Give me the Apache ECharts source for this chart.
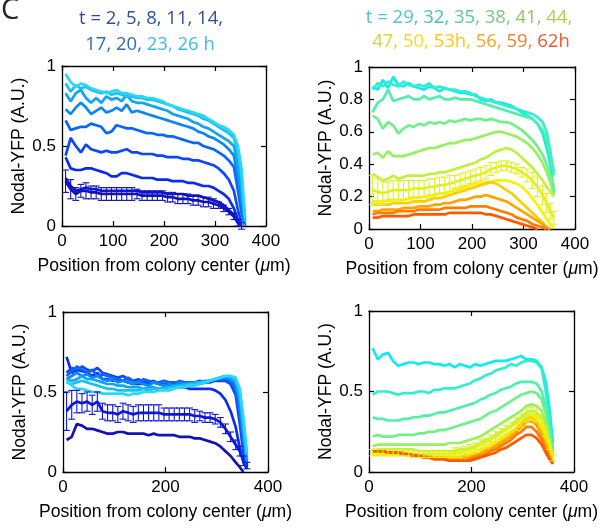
<!DOCTYPE html>
<html><head><meta charset="utf-8">
<script src="https://cdn.jsdelivr.net/npm/echarts@6/dist/echarts.min.js"></script>
<style>html,body{margin:0;padding:0;background:#fff}#c{width:609px;height:532px}</style>
</head><body><div id="c"></div>
<script>
// ---------- data ----------
const positions = [7,17,27,37,47,57,67,77,87,97,107,117,127,137,147,157,167,177,187,197,207,217,227,237,247,257,267,277,287,297,307,317,327,337,345,352,359];
const timesEarly = [2,5,8,11,14,17,20,23,26];
const timesLate = [29,32,35,38,41,44,47,50,53,56,59,62];
const colorsEarly = ['#1212b8','#0c16dc','#0a2cf0','#0a48fa','#0a66fa','#0c86f8','#10a4f6','#18c0f4','#28d8f4'];
const colorsLate = ['#10eaf2','#30eed0','#50f0aa','#70f088','#98f060','#c0f040','#e0f020','#fff000','#ffcc00','#ffa400','#ff7c00','#ff5800'];

// top-left panel, t = 2 ... 26 h
const topLeft = [
 [0.28,0.23,0.20,0.22,0.22,0.21,0.21,0.20,0.20,0.20,0.20,0.20,0.20,0.20,0.20,0.19,0.19,0.19,0.19,0.19,0.18,0.18,0.17,0.17,0.17,0.16,0.16,0.15,0.15,0.14,0.13,0.11,0.09,0.06,0.02,0.0,null],
 [0.30,0.25,0.22,0.23,0.24,0.23,0.23,0.22,0.22,0.22,0.22,0.22,0.22,0.22,0.22,0.21,0.21,0.21,0.21,0.21,0.20,0.20,0.20,0.20,0.19,0.19,0.19,0.18,0.17,0.16,0.15,0.13,0.10,0.07,0.02,0.0,null],
 [0.43,0.36,0.35,0.35,0.36,0.36,0.35,0.34,0.33,0.31,0.31,0.33,0.33,0.32,0.31,0.30,0.30,0.30,0.29,0.29,0.29,0.28,0.28,0.28,0.27,0.27,0.26,0.25,0.25,0.24,0.22,0.20,0.17,0.11,0.04,0.0,null],
 [0.44,0.55,0.50,0.46,0.51,0.48,0.47,0.46,0.47,0.46,0.46,0.47,0.48,0.46,0.46,0.45,0.45,0.45,0.44,0.44,0.43,0.43,0.43,0.42,0.42,0.41,0.41,0.40,0.39,0.38,0.36,0.33,0.29,0.22,0.10,0.02,null],
 [0.66,0.60,0.61,0.62,0.62,0.64,0.63,0.62,0.58,0.59,0.63,0.62,0.61,0.61,0.60,0.59,0.58,0.58,0.57,0.57,0.56,0.56,0.55,0.54,0.53,0.52,0.52,0.50,0.49,0.48,0.46,0.44,0.41,0.37,0.22,0.08,0.0],
 [0.73,0.70,0.74,0.77,0.74,0.70,0.72,0.74,0.71,0.72,0.74,0.72,0.76,0.71,0.72,0.71,0.70,0.69,0.68,0.67,0.66,0.65,0.64,0.63,0.62,0.61,0.59,0.58,0.56,0.55,0.53,0.51,0.48,0.44,0.30,0.15,0.0],
 [0.83,0.78,0.83,0.85,0.80,0.77,0.80,0.77,0.81,0.79,0.80,0.78,0.82,0.78,0.77,0.77,0.76,0.75,0.74,0.73,0.72,0.70,0.69,0.68,0.67,0.65,0.64,0.62,0.61,0.59,0.57,0.55,0.53,0.50,0.38,0.22,0.01],
 [0.89,0.84,0.88,0.86,0.87,0.85,0.84,0.83,0.84,0.82,0.83,0.82,0.81,0.81,0.80,0.80,0.79,0.79,0.78,0.77,0.76,0.75,0.73,0.72,0.71,0.70,0.69,0.67,0.66,0.64,0.62,0.60,0.58,0.55,0.45,0.30,0.03],
 [0.95,0.90,0.87,0.89,0.88,0.86,0.85,0.84,0.83,0.84,0.85,0.83,0.83,0.82,0.81,0.81,0.80,0.80,0.79,0.78,0.76,0.75,0.74,0.73,0.72,0.71,0.70,0.69,0.67,0.65,0.63,0.62,0.60,0.57,0.50,0.36,0.05]
];
const topLeftErr = [0.07,0.06,0.04,0.04,0.05,0.04,0.04,0.04,0.04,0.04,0.04,0.04,0.04,0.04,0.03,0.03,0.03,0.03,0.03,0.03,0.03,0.03,0.03,0.03,0.03,0.03,0.03,0.03,0.03,0.03,0.02,0.02,0.02,0.02,0.02,0.02,null];

// top-right panel, t = 29 ... 62 h
const topRight = [
 [0.88,0.86,0.92,0.87,0.94,0.89,0.88,0.90,0.88,0.87,0.86,0.88,0.87,0.85,0.87,0.86,0.85,0.84,0.84,0.83,0.83,0.80,0.79,0.80,0.78,0.78,0.77,0.76,0.74,0.72,0.70,0.68,0.65,0.59,0.50,0.40,0.22],
 [0.86,0.90,0.88,0.91,0.89,0.88,0.91,0.89,0.88,0.89,0.88,0.90,0.87,0.88,0.87,0.86,0.86,0.85,0.85,0.84,0.82,0.81,0.80,0.79,0.78,0.77,0.76,0.75,0.74,0.73,0.72,0.71,0.69,0.66,0.60,0.48,0.35],
 [0.72,0.78,0.80,0.86,0.79,0.80,0.81,0.82,0.80,0.80,0.82,0.80,0.81,0.82,0.80,0.80,0.81,0.80,0.80,0.80,0.79,0.78,0.77,0.76,0.75,0.74,0.73,0.72,0.71,0.70,0.69,0.68,0.65,0.61,0.55,0.45,0.33],
 [0.70,0.68,0.62,0.66,0.64,0.59,0.62,0.64,0.63,0.65,0.64,0.66,0.65,0.66,0.65,0.67,0.66,0.67,0.68,0.67,0.68,0.68,0.67,0.68,0.67,0.66,0.66,0.65,0.63,0.61,0.58,0.55,0.51,0.46,0.40,0.33,0.27],
 [0.46,0.47,0.44,0.48,0.45,0.45,0.45,0.46,0.47,0.48,0.49,0.50,0.50,0.51,0.52,0.53,0.53,0.54,0.55,0.55,0.56,0.57,0.58,0.59,0.60,0.60,0.59,0.58,0.57,0.55,0.53,0.50,0.46,0.41,0.35,0.29,0.21],
 [0.34,0.32,0.30,0.31,0.33,0.31,0.32,0.33,0.33,0.33,0.33,0.34,0.34,0.35,0.35,0.36,0.37,0.38,0.39,0.40,0.41,0.43,0.44,0.46,0.48,0.49,0.50,0.49,0.47,0.44,0.41,0.38,0.34,0.30,0.26,0.23,0.20],
 [0.24,0.23,0.22,0.23,0.24,0.24,0.24,0.24,0.25,0.25,0.25,0.26,0.26,0.27,0.27,0.28,0.29,0.30,0.31,0.32,0.33,0.34,0.35,0.37,0.38,0.39,0.39,0.38,0.37,0.35,0.33,0.30,0.26,0.21,0.16,0.11,0.07],
 [0.17,0.17,0.17,0.18,0.18,0.18,0.18,0.19,0.19,0.19,0.20,0.20,0.21,0.22,0.22,0.23,0.24,0.25,0.26,0.27,0.28,0.28,0.29,0.29,0.30,0.30,0.30,0.29,0.28,0.26,0.23,0.19,0.15,0.10,0.06,0.03,0.01],
 [0.15,0.15,0.15,0.15,0.16,0.16,0.16,0.16,0.17,0.17,0.17,0.18,0.19,0.19,0.20,0.21,0.22,0.23,0.24,0.25,0.26,0.27,0.28,0.29,0.28,0.26,0.24,0.22,0.19,0.16,0.13,0.10,0.07,0.04,0.01,0.0,null],
 [0.11,0.11,0.12,0.12,0.12,0.12,0.13,0.13,0.13,0.14,0.14,0.14,0.15,0.15,0.16,0.16,0.17,0.18,0.18,0.19,0.20,0.20,0.21,0.20,0.19,0.18,0.17,0.15,0.13,0.11,0.09,0.07,0.05,0.03,0.01,0.0,null],
 [0.09,0.10,0.10,0.10,0.10,0.11,0.11,0.11,0.11,0.12,0.12,0.12,0.12,0.12,0.13,0.13,0.13,0.13,0.13,0.14,0.14,0.14,0.14,0.13,0.12,0.11,0.10,0.09,0.07,0.06,0.05,0.03,0.02,0.01,0.0,null,null],
 [0.07,0.07,0.08,0.08,0.08,0.08,0.08,0.08,0.09,0.09,0.09,0.09,0.09,0.09,0.09,0.10,0.10,0.10,0.10,0.10,0.10,0.10,0.09,0.09,0.08,0.07,0.06,0.05,0.04,0.03,0.02,0.01,0.0,null,null,null,null]
];
const topRightErr = [0.09,0.08,0.07,0.06,0.06,0.06,0.06,0.06,0.05,0.05,0.05,0.05,0.05,0.05,0.05,0.05,0.04,0.04,0.04,0.04,0.04,0.04,0.04,0.04,0.03,0.03,0.03,0.03,0.03,0.03,0.04,0.05,0.06,0.06,0.06,0.05,0.04];

// bottom-left panel, t = 2 ... 26 h
const bottomLeft = [
 [0.20,0.22,0.30,0.29,0.27,0.27,0.26,0.25,0.24,0.24,0.25,0.25,0.24,0.24,0.24,0.24,0.23,0.24,0.23,0.23,0.23,0.23,0.22,0.22,0.22,0.21,0.21,0.20,0.19,0.18,0.16,0.13,0.10,0.06,0.03,0.0,null],
 [0.38,0.42,0.44,0.43,0.44,0.42,0.44,0.38,0.37,0.37,0.36,0.38,0.37,0.36,0.37,0.37,0.37,0.37,0.37,0.36,0.36,0.36,0.36,0.36,0.36,0.35,0.35,0.34,0.34,0.33,0.31,0.27,0.22,0.17,0.13,0.07,0.04],
 [0.72,0.62,0.64,0.63,0.62,0.60,0.62,0.58,0.58,0.57,0.58,0.57,0.56,0.55,0.55,0.55,0.55,0.56,0.55,0.55,0.54,0.54,0.53,0.53,0.52,0.52,0.52,0.52,0.52,0.51,0.49,0.45,0.38,0.28,0.15,0.06,0.02],
 [0.62,0.65,0.63,0.66,0.64,0.63,0.65,0.62,0.61,0.60,0.59,0.60,0.58,0.57,0.58,0.56,0.56,0.57,0.55,0.55,0.56,0.56,0.55,0.56,0.56,0.56,0.55,0.56,0.56,0.57,0.57,0.57,0.55,0.48,0.30,0.12,0.03],
 [0.60,0.63,0.66,0.64,0.62,0.64,0.60,0.61,0.60,0.59,0.58,0.57,0.59,0.57,0.56,0.58,0.57,0.56,0.56,0.57,0.56,0.55,0.57,0.56,0.55,0.56,0.57,0.56,0.57,0.58,0.58,0.58,0.57,0.52,0.36,0.18,0.04],
 [0.58,0.60,0.62,0.60,0.61,0.59,0.60,0.58,0.57,0.58,0.56,0.57,0.56,0.55,0.56,0.55,0.54,0.56,0.55,0.54,0.55,0.54,0.56,0.55,0.56,0.55,0.56,0.56,0.57,0.58,0.59,0.59,0.58,0.55,0.42,0.22,0.06],
 [0.58,0.57,0.58,0.60,0.58,0.58,0.57,0.56,0.55,0.55,0.54,0.54,0.53,0.53,0.53,0.52,0.53,0.53,0.52,0.53,0.53,0.54,0.54,0.55,0.55,0.56,0.56,0.57,0.57,0.58,0.59,0.60,0.59,0.56,0.46,0.26,0.08],
 [0.56,0.55,0.56,0.57,0.56,0.55,0.54,0.53,0.52,0.52,0.51,0.51,0.51,0.51,0.51,0.52,0.51,0.52,0.52,0.52,0.53,0.53,0.54,0.54,0.55,0.55,0.56,0.56,0.57,0.58,0.59,0.60,0.60,0.58,0.50,0.30,0.10],
 [0.57,0.54,0.52,0.52,0.51,0.50,0.50,0.49,0.49,0.49,0.49,0.49,0.48,0.49,0.49,0.50,0.50,0.50,0.51,0.51,0.51,0.52,0.53,0.53,0.54,0.54,0.55,0.56,0.57,0.58,0.59,0.60,0.60,0.59,0.52,0.34,0.12]
];
const bottomLeftErr = [0.12,0.09,0.07,0.06,0.06,0.06,0.06,0.05,0.05,0.05,0.05,0.05,0.05,0.05,0.05,0.05,0.05,0.05,0.05,0.04,0.04,0.04,0.04,0.04,0.04,0.04,0.03,0.03,0.03,0.03,0.03,0.03,0.03,0.03,0.03,0.03,0.02];

// bottom-right panel, t = 29 ... 62 h
const bottomRight = [
 [0.77,0.70,0.73,0.74,0.69,0.66,0.67,0.68,0.68,0.67,0.68,0.68,0.67,0.67,0.66,0.67,0.65,0.67,0.66,0.65,0.67,0.66,0.67,0.68,0.69,0.69,0.69,0.70,0.71,0.72,0.70,0.70,0.69,0.65,0.56,0.40,0.18],
 [0.48,0.50,0.50,0.50,0.49,0.48,0.49,0.49,0.49,0.50,0.50,0.49,0.51,0.51,0.52,0.52,0.52,0.53,0.54,0.55,0.57,0.58,0.60,0.61,0.63,0.64,0.65,0.67,0.66,0.68,0.69,0.69,0.68,0.64,0.50,0.32,0.14],
 [0.34,0.33,0.33,0.32,0.32,0.32,0.33,0.33,0.34,0.34,0.35,0.35,0.36,0.37,0.37,0.38,0.39,0.40,0.41,0.42,0.43,0.45,0.46,0.48,0.49,0.51,0.52,0.53,0.55,0.56,0.56,0.56,0.55,0.50,0.40,0.26,0.12],
 [0.22,0.23,0.22,0.22,0.22,0.23,0.23,0.23,0.23,0.24,0.24,0.25,0.25,0.26,0.26,0.27,0.28,0.29,0.30,0.31,0.32,0.33,0.35,0.37,0.38,0.40,0.42,0.44,0.46,0.48,0.49,0.50,0.49,0.45,0.36,0.22,0.10],
 [0.16,0.17,0.17,0.17,0.17,0.17,0.17,0.17,0.17,0.17,0.17,0.17,0.17,0.17,0.17,0.18,0.18,0.18,0.19,0.20,0.21,0.22,0.24,0.26,0.28,0.30,0.32,0.34,0.36,0.38,0.41,0.42,0.41,0.38,0.30,0.20,0.10],
 [0.13,0.14,0.14,0.14,0.14,0.14,0.14,0.14,0.14,0.13,0.13,0.13,0.13,0.13,0.13,0.13,0.13,0.14,0.14,0.15,0.16,0.18,0.20,0.21,0.23,0.25,0.27,0.29,0.32,0.34,0.37,0.38,0.37,0.34,0.26,0.18,0.10],
 [0.12,0.12,0.12,0.12,0.12,0.12,0.12,0.12,0.11,0.11,0.11,0.11,0.11,0.11,0.11,0.11,0.12,0.12,0.13,0.14,0.15,0.17,0.18,0.20,0.22,0.24,0.26,0.28,0.30,0.32,0.35,0.36,0.35,0.32,0.25,0.17,0.09],
 [0.11,0.11,0.11,0.11,0.11,0.11,0.11,0.10,0.10,0.10,0.10,0.10,0.10,0.10,0.10,0.10,0.10,0.10,0.11,0.12,0.13,0.14,0.16,0.17,0.19,0.21,0.23,0.25,0.27,0.30,0.33,0.35,0.33,0.28,0.20,0.13,0.08],
 [0.13,0.13,0.13,0.12,0.12,0.12,0.12,0.11,0.11,0.10,0.10,0.10,0.09,0.09,0.09,0.09,0.09,0.09,0.10,0.10,0.11,0.12,0.14,0.15,0.17,0.19,0.21,0.24,0.27,0.30,0.33,0.34,0.31,0.25,0.18,0.12,0.07],
 [0.14,0.13,0.13,0.12,0.12,0.12,0.12,0.11,0.11,0.10,0.10,0.09,0.09,0.09,0.08,0.08,0.08,0.08,0.09,0.09,0.10,0.11,0.13,0.14,0.16,0.18,0.20,0.22,0.25,0.28,0.31,0.32,0.29,0.23,0.16,0.10,0.06],
 [0.13,0.13,0.13,0.12,0.12,0.12,0.11,0.11,0.10,0.10,0.09,0.09,0.08,0.08,0.08,0.07,0.07,0.07,0.07,0.08,0.09,0.10,0.11,0.13,0.14,0.16,0.18,0.20,0.23,0.25,0.28,0.28,0.25,0.20,0.14,0.09,0.05],
 [0.13,0.13,0.13,0.12,0.12,0.12,0.11,0.11,0.10,0.10,0.09,0.09,0.08,0.08,0.08,0.07,0.07,0.07,0.07,0.07,0.08,0.09,0.10,0.11,0.12,0.14,0.15,0.17,0.19,0.21,0.23,0.23,0.21,0.17,0.12,0.08,0.05]
];
const bottomRightErr = [0.02,0.02,0.02,0.02,0.02,0.02,0.02,0.02,0.02,0.02,0.02,0.02,0.02,0.02,0.02,0.02,0.03,0.03,0.03,0.03,0.03,0.03,0.03,0.03,0.03,0.03,0.03,0.03,0.04,0.04,0.04,0.04,0.04,0.04,0.03,0.03,0.02];

// ---------- layout ----------
const FONT = 'Liberation Sans, Arial, sans-serif';
const panels = [
  {grid:{left:62, top:66, width:204, height:160}, xInt:100, yInt:0.5, values:topLeft, colors:colorsEarly, err:topLeftErr, errIdx:0},
  {grid:{left:369, top:67, width:206, height:162}, xInt:100, yInt:0.2, values:topRight, colors:colorsLate, err:topRightErr, errIdx:6},
  {grid:{left:63, top:312, width:205, height:160}, xInt:200, yInt:0.5, values:bottomLeft, colors:colorsEarly, err:bottomLeftErr, errIdx:1},
  {grid:{left:369, top:311, width:205, height:161}, xInt:200, yInt:0.5, values:bottomRight, colors:colorsLate, err:bottomRightErr, errIdx:6}
];

const axisLine = {show:true, onZero:false, lineStyle:{color:'#000', width:1.3}};
const axisTick = {show:true, inside:true, length:5, lineStyle:{color:'#000', width:1.2}};
const grids = [], xAxes = [], yAxes = [], series = [];
const NS = 17.6, LS = 17;

panels.forEach((p, gi) => {
  grids.push(Object.assign({containLabel:false}, p.grid));
  xAxes.push({type:'value', gridIndex:gi, position:'bottom', min:0, max:400, interval:p.xInt,
    axisLine, axisTick, splitLine:{show:false},
    axisLabel:{color:'#000', fontSize:LS, fontFamily:FONT, margin:7},
    name:'{n|Position from colony center (}{i|μ}{n|m)}', nameLocation:'middle', nameGap:31,
    nameTextStyle:{color:'#000', fontSize:NS, fontFamily:FONT,
      rich:{n:{color:'#000', fontSize:NS, fontFamily:FONT}, i:{color:'#000', fontSize:NS, fontFamily:FONT, fontStyle:'italic'}}}
  });
  xAxes.push({type:'value', gridIndex:gi, position:'top', min:0, max:400, interval:p.xInt,
    axisLine, axisTick, splitLine:{show:false}, axisLabel:{show:false}});
  yAxes.push({type:'value', gridIndex:gi, position:'left', min:0, max:1, interval:p.yInt,
    axisLine, axisTick, splitLine:{show:false},
    axisLabel:{color:'#000', fontSize:LS, fontFamily:FONT, margin:6},
    name:'Nodal-YFP (A.U.)', nameLocation:'middle', nameGap:32, nameRotate:90,
    nameTextStyle:{color:'#000', fontSize:NS, fontFamily:FONT}});
  yAxes.push({type:'value', gridIndex:gi, position:'right', min:0, max:1, interval:p.yInt,
    axisLine, axisTick, splitLine:{show:false}, axisLabel:{show:false}});

  p.values.forEach((vals, si) => {
    series.push({type:'line', xAxisIndex:2*gi, yAxisIndex:2*gi, symbol:'none', showSymbol:false,
      animation:false, silent:true, z: 2 + si*0.01,
      lineStyle:{width:2.7, color:p.colors[si]}, itemStyle:{color:p.colors[si]},
      data: positions.map((x, j) => [x, vals[j]])});
  });
  const ev = p.values[p.errIdx];
  const ecol = p.colors[p.errIdx];
  series.push({type:'custom', xAxisIndex:2*gi, yAxisIndex:2*gi, animation:false, silent:true, z:3,
    encode:{x:0, y:1},
    data: positions.map((x, j) => [x, ev[j], p.err[j]]).filter(d => d[1] != null && d[2] != null),
    renderItem: (params, api) => {
      const x = api.value(0), y = api.value(1), e = api.value(2);
      const hi = api.coord([x, y + e]), lo = api.coord([x, y - e]);
      const w = 3.4, st = {stroke:ecol, lineWidth:1.1};
      return {type:'group', children:[
        {type:'line', shape:{x1:hi[0], y1:hi[1], x2:lo[0], y2:lo[1]}, style:st},
        {type:'line', shape:{x1:hi[0]-w, y1:hi[1], x2:hi[0]+w, y2:hi[1]}, style:st},
        {type:'line', shape:{x1:lo[0]-w, y1:lo[1], x2:lo[0]+w, y2:lo[1]}, style:st}
      ]};
    }});
});

const TFONT = 'Open Sans';
function tok(c){ return {fill:c, fontSize:18.5, fontFamily:TFONT}; }
const graphic = [
  {type:'text', x:1, y:-4, style:{text:'C', fontSize:29, fontFamily:TFONT, fill:'#222', align:'left', verticalAlign:'top'}},
  {type:'text', x:151, y:18.5, style:{text:'{a|t = 2, 5, 8, 11, 14,}', align:'center', verticalAlign:'middle',
     rich:{a:tok('#2d4e9c')}}},
  {type:'text', x:150, y:45, style:{text:'{a|17, 20, }{b|23, 26 h}', align:'center', verticalAlign:'middle',
     rich:{a:tok('#2f6cb4'), b:tok('#3cbbe8')}}},
  {type:'text', x:469, y:18, style:{text:'{a|t = 29, }{b|32, }{c|35, }{d|38, }{e|41, }{f|44,}', align:'center', verticalAlign:'middle',
     rich:{a:tok('#4ec3da'), b:tok('#44c1bd'), c:tok('#5ec59c'), d:tok('#7cc680'), e:tok('#92c662'), f:tok('#b3cf46')}}},
  {type:'text', x:471, y:41.5, style:{text:'{a|47, }{b|50, }{c|53h, }{d|56, }{e|59, }{f|62h}', align:'center', verticalAlign:'middle',
     rich:{a:tok('#d3d92e'), b:tok('#f1df1c'), c:tok('#fbca14'), d:tok('#f9a628'), e:tok('#f37e2b'), f:tok('#ee5a2a')}}}
];

const chart = echarts.init(document.getElementById('c'), null, {renderer:'canvas'});
chart.setOption({animation:false, backgroundColor:'#fff', grid:grids, xAxis:xAxes, yAxis:yAxes, series, graphic});
</script></body></html>
